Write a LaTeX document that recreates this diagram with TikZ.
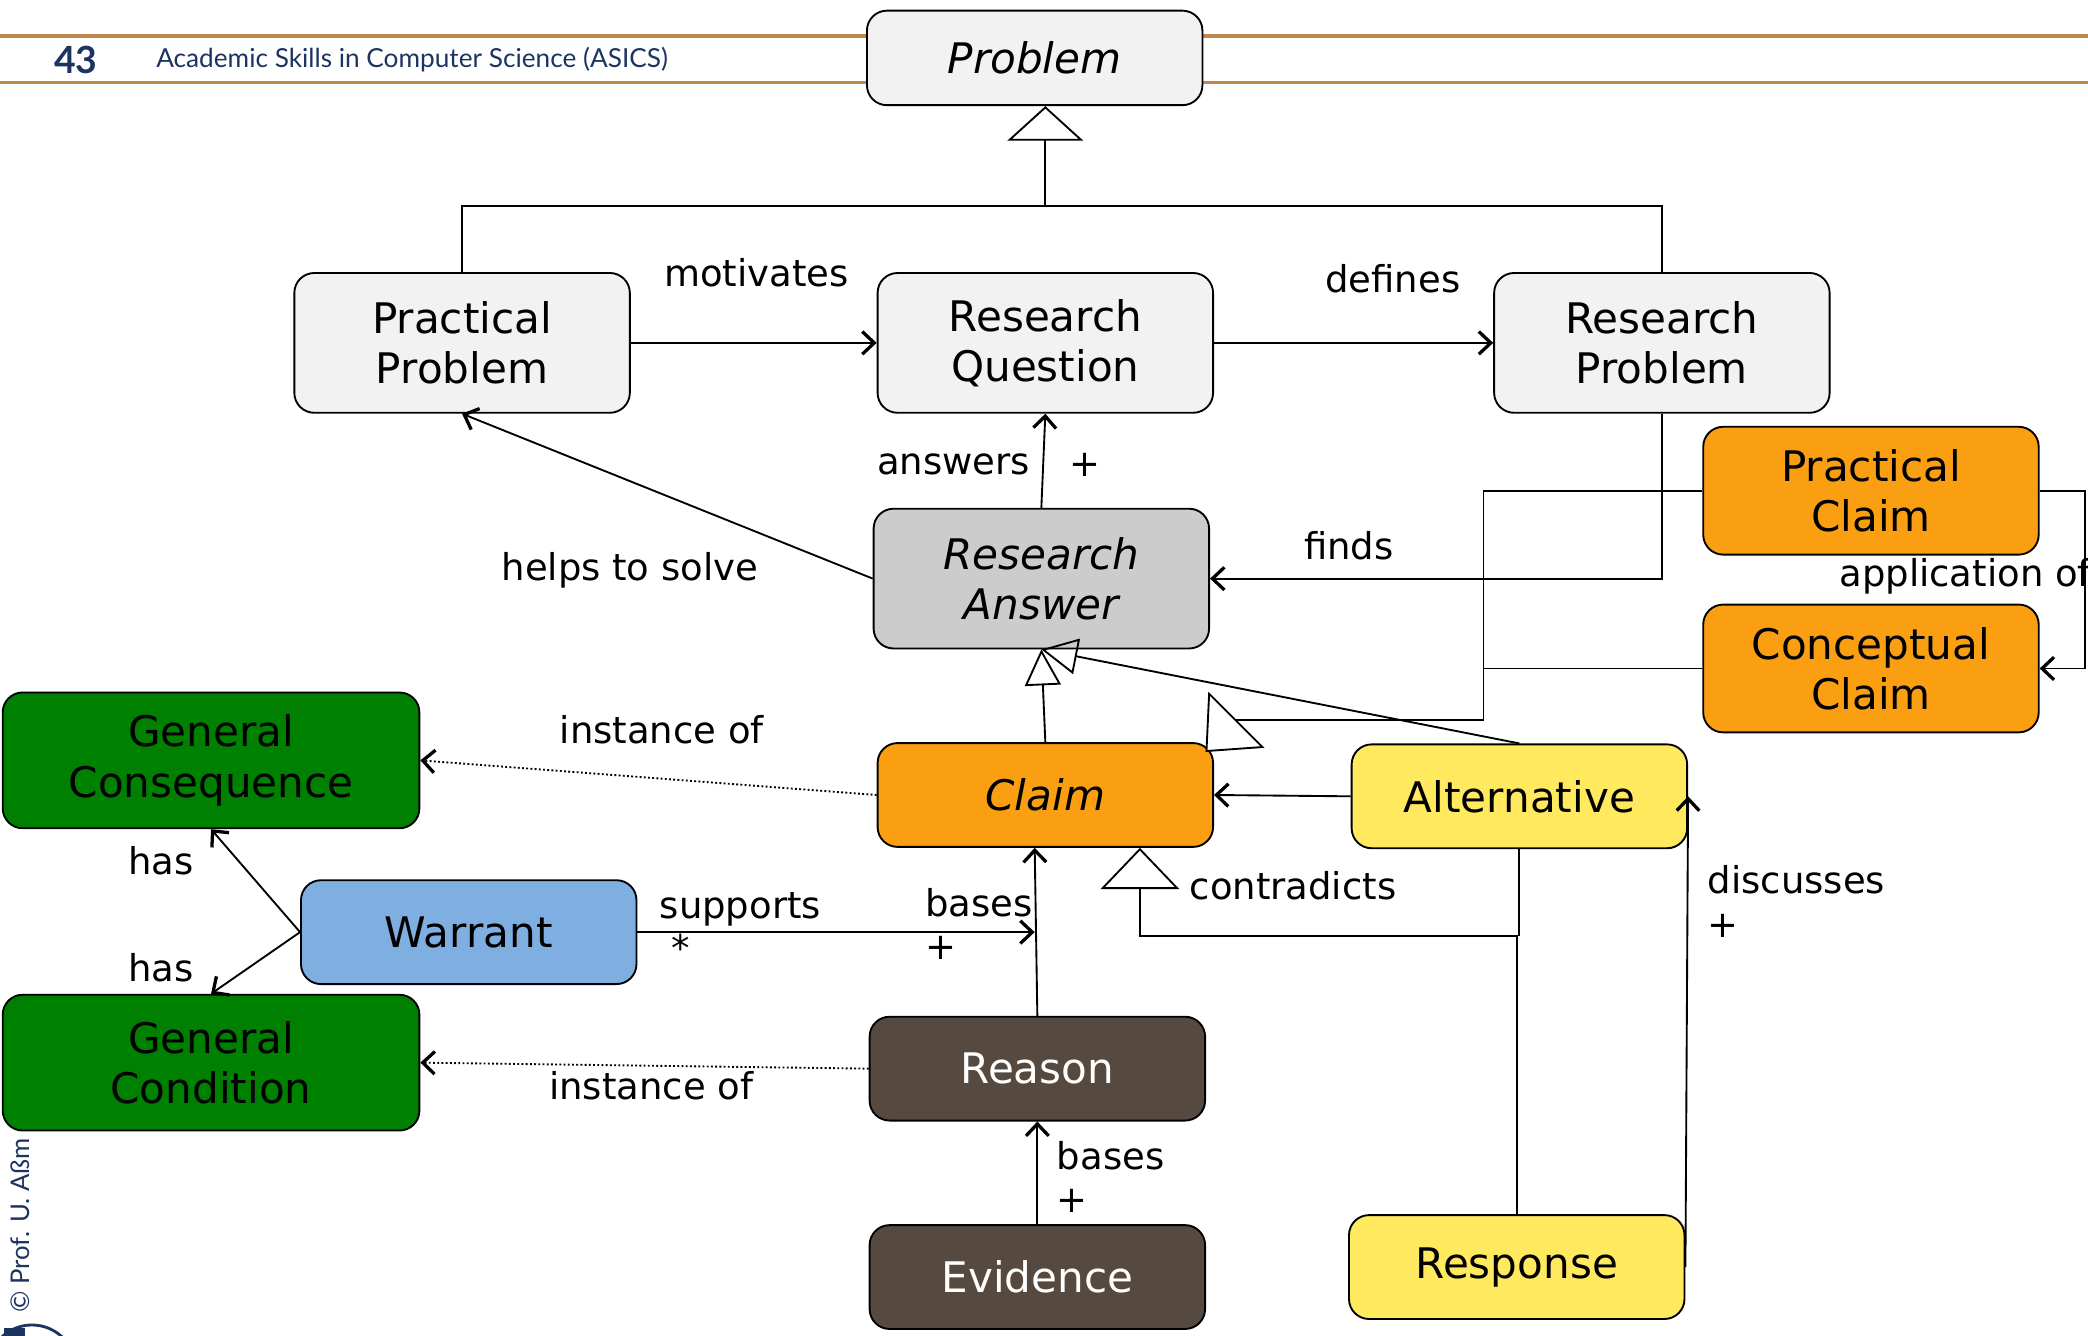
\documentclass[tikz,border=0pt]{standalone}
\usepackage{fontspec}
\setmainfont{DejaVu Sans}
\newfontfamily\headfont{Lato}
\usetikzlibrary{arrows.meta,calc}

\definecolor{boxgray}{HTML}{F2F2F2}
\definecolor{answergray}{HTML}{CCCCCC}
\definecolor{claimorange}{HTML}{FA9F11}
\definecolor{rulegreen}{HTML}{008000}
\definecolor{altyellow}{HTML}{FFE95E}
\definecolor{warrantblue}{HTML}{7FAEE0}
\definecolor{reasonbrown}{HTML}{564940}
\definecolor{headrule}{HTML}{C0874F}
\definecolor{headnavy}{HTML}{1D3461}

\tikzset{
    box/.style={draw, rounded corners=0.3cm, line width=0.8pt, align=center, inner sep=0pt,
        minimum width=5.04cm, minimum height=1.56cm, font=\fontsize{18}{21.5}\selectfont},
    tall/.style={minimum height=2.1cm},
    wide/.style={minimum width=6.26cm, minimum height=2.04cm},
    abstract/.style={font=\fontsize{18}{21.5}\selectfont\itshape},
    lbl/.style={font=\fontsize{15.8}{19}\selectfont, inner sep=0pt},
    conn/.style={line width=0.8pt},
    assoc/.style={conn, -{Straight Barb[length=0.18cm, width=0.34cm, line width=1.4pt]}},
    inst/.style={assoc, densely dotted},
    genbig/.style={conn, -{Triangle[open, length=0.52cm, width=1.14cm, line width=0.8pt]}},
    genclaim/.style={conn, -{Triangle[open, length=0.62cm, width=1.18cm, line width=0.8pt]}},
    gensmall/.style={conn, -{Triangle[open, length=0.54cm, width=0.54cm, line width=0.8pt]}},
}

\begin{document}
\begin{tikzpicture}[x=0.02cm, y=-0.02cm]
    \useasboundingbox (0,0) rectangle (1568,1003);
    % header of the slide
    \draw[headrule, line width=1.4pt] (0,27) -- (1568,27);
    \draw[headrule, line width=1.4pt] (0,62) -- (1568,62);
    \node[headnavy, font=\headfont\bfseries\fontsize{16}{18}\selectfont] (pageno) at (57,45) {43};
    \node[headnavy, font=\headfont\fontsize{11.2}{12}\selectfont, anchor=west, inner sep=0pt] (course) at (117,45)
        {Academic Skills in Computer Science (ASICS)};
    \node[headnavy, font=\headfont\fontsize{11}{12}\selectfont, rotate=90, anchor=west, inner sep=0pt] (copyright) at (15,986)
        {© Prof. U. Aßm};
    \fill[headnavy] (3,997) rectangle (19,1003);
    \draw[headnavy, line width=1.2pt] (24,1028) circle[radius=33];

    % classes
    \node[box, tall, fill=boxgray, abstract, minimum height=1.42cm] (problem) at (777,43.5) {Problem};
    \node[box, tall, fill=boxgray] (pracprob) at (347,257.5) {Practical\\Problem};
    \node[box, tall, fill=boxgray] (rq) at (785,257.5) {Research\\Question};
    \node[box, tall, fill=boxgray] (rp) at (1248,257.5) {Research\\Problem};
    \node[box, tall, fill=answergray, abstract] (ra) at (782,434.5) {Research\\Answer};
    \node[box, fill=claimorange, minimum height=1.92cm] (pracclaim) at (1405,368.5) {Practical\\Claim};
    \node[box, fill=claimorange, minimum height=1.92cm] (conclaim) at (1405,502) {Conceptual\\Claim};
    \node[box, wide, fill=rulegreen] (gencons) at (158.5,571) {General\\Consequence};
    \node[box, fill=claimorange, abstract] (claim) at (785,597) {Claim};
    \node[box, fill=altyellow] (alt) at (1141,598) {Alternative};
    \node[box, fill=warrantblue] (warrant) at (352,700) {Warrant};
    \node[box, wide, fill=rulegreen] (gencond) at (158.5,798) {General\\Condition};
    \node[box, fill=reasonbrown, text=white] (reason) at (779,802.5) {Reason};
    \node[box, fill=reasonbrown, text=white] (evidence) at (779,959) {Evidence};
    \node[box, fill=altyellow] (response) at (1139,951.5) {Response};

    % generalisations
    \coordinate (genjoin) at (785,155);
    \draw[conn] (pracprob.north) |- (genjoin) -| (rp.north);
    \draw[genbig] (genjoin) -- (genjoin |- problem.south);
    \draw[gensmall] (claim.north) -- (ra.south);
    \draw[gensmall] (alt.north) -- (ra.south);
    \coordinate (claimjoin) at (1114,541);
    \draw[conn] (pracclaim.west) -| (claimjoin) -- (928,541);
    \draw[conn] (conclaim.west) -- (conclaim.west -| claimjoin);
    \draw[conn, fill=white] (906,564) -- (908,521) -- (948,561) -- cycle;
    \coordinate (contrajoin) at (856,703);
    \draw[genclaim] (response.north) |- (contrajoin) -- (contrajoin |- claim.south);
    \draw[conn] (alt.south) -- (alt.south |- contrajoin);

    % associations
    \draw[assoc] (pracprob.east) -- (rq.west);
    \draw[assoc] (rq.east) -- (rp.west);
    \draw[assoc] (ra.north) -- (rq.south);
    \draw[assoc] (ra.west) -- (pracprob.south);
    \draw[assoc] (rp.south) |- (ra.east);
    \coordinate (appright) at (1566,368.5);
    \draw[assoc] (pracclaim.east) -- (appright) |- (conclaim.east);
    \draw[assoc] (alt.west) -- (claim.east);
    \draw[assoc] (response.east) -- (alt.east);
    \coordinate (basejoin) at (777,700);
    \draw[assoc] (reason.north) -- ($(claim.south)+(-8,0)$);
    \draw[assoc] (warrant.east) -- (basejoin);
    \draw[assoc] (warrant.west) -- (gencons.south);
    \draw[assoc] (warrant.west) -- (gencond.north);
    \draw[inst] (claim.west) -- (gencons.east);
    \draw[inst] (reason.west) -- (gencond.east);
    \draw[assoc] (evidence.north) -- (reason.south);

    % role names
    \node[lbl] (motivates) at (568,205) {motivates};
    \node[lbl] (defines) at (1046,209) {defines};
    \node[lbl] (answers) at (716,349) {answers};
    \node[lbl] (answersm) at (815,349) {+};
    \node[lbl] (helps) at (473,428) {helps to solve};
    \node[lbl] (finds) at (1013,410) {finds};
    \node[lbl, anchor=west] (appof) at (1381,433) {application of};
    \node[lbl] (instcons) at (497,548) {instance of};
    \node[lbl] (contra) at (971,665) {contradicts};
    \node[lbl] (discusses) at (1349,661) {discusses};
    \node[lbl] (discussesm) at (1294,695) {+};
    \node[lbl] (supports) at (556,683) {supports};
    \node[lbl] (supportsm) at (511,712) {*};
    \node[lbl] (bases) at (735,678) {bases};
    \node[lbl] (basesm) at (707,712) {+};
    \node[lbl] (hascons) at (121,646) {has};
    \node[lbl] (hascond) at (121,727) {has};
    \node[lbl] (instcond) at (489,815) {instance of};
    \node[lbl] (evbases) at (834,868) {bases};
    \node[lbl] (evbasesm) at (805,902) {+};
\end{tikzpicture}
\end{document}
